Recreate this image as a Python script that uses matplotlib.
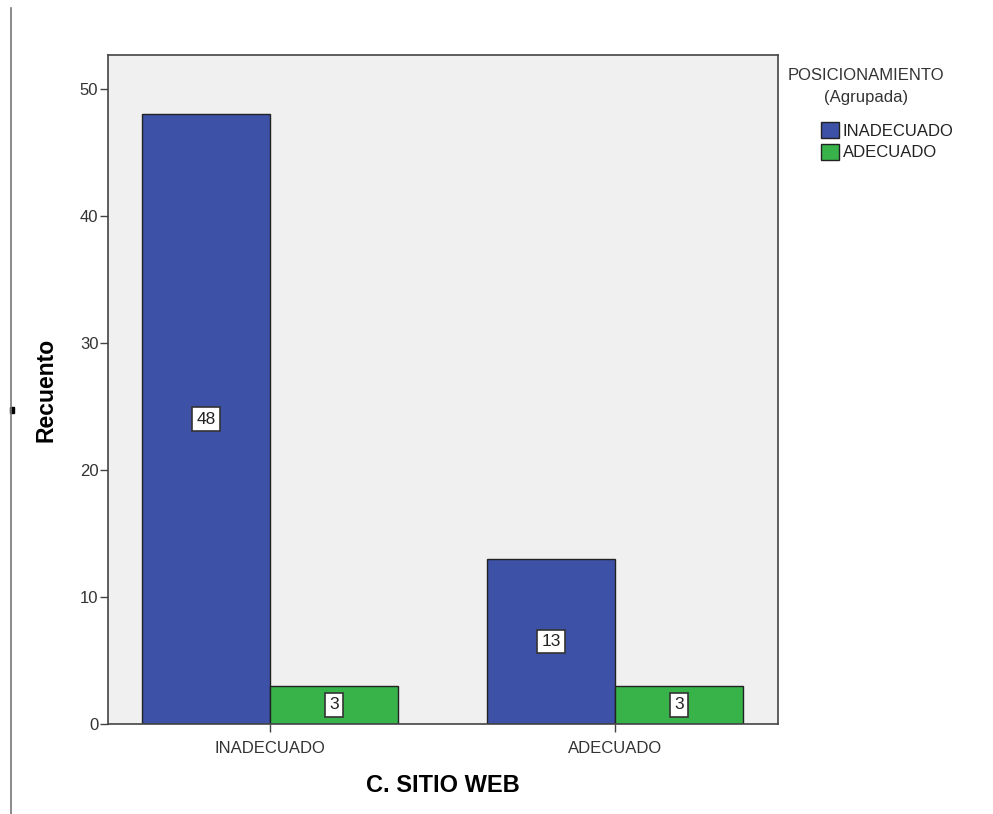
import matplotlib.pyplot as plt
import matplotlib.patches as mpatches
from matplotlib.lines import Line2D
import numpy as np

plt.rcParams['font.family'] = ['Liberation Sans', 'DejaVu Sans']

# Counts per category of "C. SITIO WEB", grouped by POSICIONAMIENTO
categories = ['INADECUADO', 'ADECUADO']
groups = ['INADECUADO', 'ADECUADO']
counts_inadecuado = [48, 13]
counts_adecuado = [3, 3]
yticks = [0, 10, 20, 30, 40, 50]

colors = ['#3d51a6', '#37b34a']
bg = '#f0f0f0'
edge = '#222222'

fig = plt.figure(figsize=(9.93, 8.14), dpi=100)
ax = fig.add_axes([0.1088, 0.1106, 0.6747, 0.8219])
ax.set_facecolor(bg)

x = np.arange(len(categories))
width = 0.371
series = [counts_inadecuado, counts_adecuado]
offsets = [-width / 2, width / 2]

for vals, off, col in zip(series, offsets, colors):
    bars = ax.bar(x + off, vals, width, color=col, edgecolor=edge, linewidth=1.0, zorder=2)
    for b, v in zip(bars, vals):
        ax.text(b.get_x() + b.get_width() / 2, v / 2, str(v), ha='center', va='center',
                fontsize=12.5, color='#222222', zorder=3,
                bbox=dict(boxstyle='square,pad=0.25', fc='white', ec='#333333', lw=1.2))

ax.set_xlim(-0.4696, 1.4725)
ax.set_ylim(0, 52.68)
ax.set_yticks(yticks)
ax.set_xticks(x)
ax.set_xticklabels(categories)
ax.tick_params(axis='both', direction='out', length=6, width=1, color='#444444',
               labelsize=12, labelcolor='#333333')
ax.tick_params(axis='x', pad=6)
ax.tick_params(axis='y', pad=1)

for s in ax.spines.values():
    s.set_color('#444444')
    s.set_linewidth(1.2)

ax.set_ylabel('Recuento', fontsize=16.5, fontweight='bold', labelpad=16)
ax.set_xlabel('C. SITIO WEB', fontsize=17, fontweight='bold', labelpad=13)

# legend on the right: centred title, entries below it
fig.text(866 / 993, 1 - 68 / 814, 'POSICIONAMIENTO\n(Agrupada)', ha='center', va='top',
         fontsize=12, color='#333333', linespacing=1.55, multialignment='center')
handles = [mpatches.Patch(facecolor=c, edgecolor=edge, lw=1.0, label=g) for c, g in zip(colors, groups)]
leg = fig.legend(handles=handles, loc='upper left', bbox_to_anchor=(821 / 993, 1 - 122 / 814),
                 frameon=False, fontsize=12, handlelength=1.1, handleheight=1.1,
                 handletextpad=0.2, labelspacing=0.3, borderaxespad=0, borderpad=0)
for t in leg.get_texts():
    t.set_color('#222222')

# thin frame line at left edge of the page
fig.add_artist(Line2D([11 / 993, 11 / 993], [0, 1 - 8 / 814], color='#777777', lw=1.2))
fig.add_artist(mpatches.Rectangle((10 / 993, 1 - 413 / 814), 4 / 993, 6 / 814,
                                  color='black', transform=fig.transFigure))

fig.savefig('out.png', dpi=100)
